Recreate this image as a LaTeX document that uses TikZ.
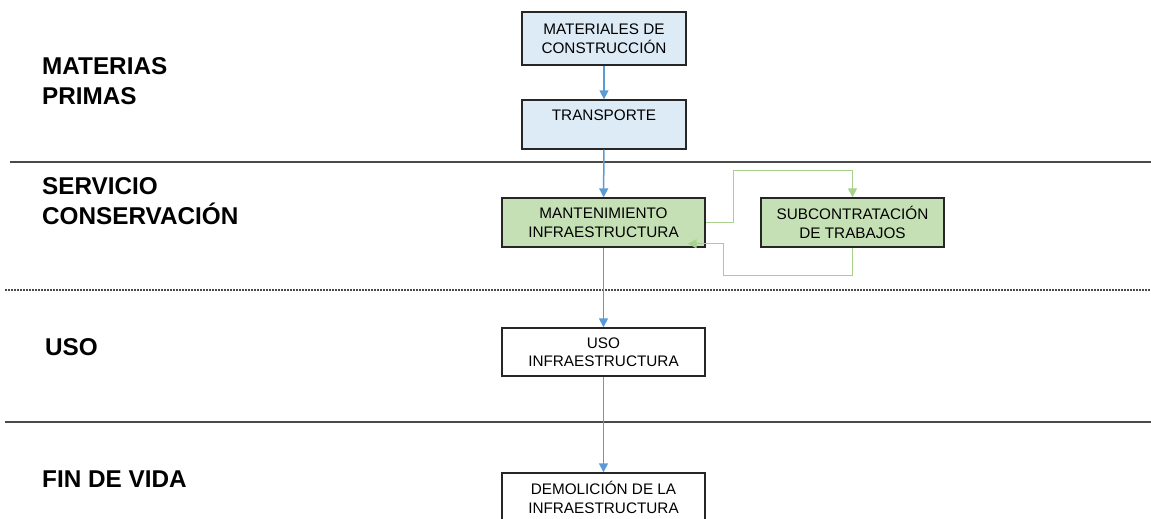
\documentclass[tikz,border=0pt]{standalone}
\usepackage{fontspec}
\setmainfont{Liberation Sans}
\usetikzlibrary{calc,positioning,arrows.meta}
\definecolor{boxblue}{HTML}{DDEBF7}
\definecolor{boxgreen}{HTML}{C5E0B4}
\definecolor{lineblue}{HTML}{5B9BD5}
\definecolor{linegreen}{HTML}{A9D18E}
\definecolor{sepgray}{HTML}{4A4A4A}

\begin{document}
\begin{tikzpicture}[x=1pt, y=-1pt,
  phase/.style={anchor=west, inner sep=0pt, align=left, font=\fontsize{24.3}{30}\selectfont\bfseries},
  sep/.style={draw=sepgray, line width=1.5pt}]
\tikzstyle{stage}=[draw=black!85, line width=1.4pt, inner sep=3pt, minimum width=164pt, minimum height=49pt, align=center, font=\fontsize{15.3}{18.5}\selectfont]
\tikzstyle{blue arrow}=[draw=lineblue, line width=1.5pt, -{Triangle[width=9pt,length=9pt]}]
\tikzstyle{green arrow}=[draw=linegreen, line width=1.5pt, -{Triangle[width=9pt,length=9pt]}]
\useasboundingbox (0,0) rectangle (1151,519);
% phase labels
\node[phase] (mp) at (42,81) {MATERIAS\\PRIMAS};
\node[phase] (sc) at (42,201) {SERVICIO\\CONSERVACIÓN};
\node[phase] (us) at (45,347) {USO};
\node[phase] (fv) at (42,479) {FIN DE VIDA};
% separators
\draw[sep] (10,162) -- (1151,162);
\draw[sep, line width=1.2pt, dash pattern=on 2pt off 1pt] (5,290) -- (1151,290);
\draw[sep] (5,422) -- (1151,422);
% stages
\node[stage, fill=boxblue, minimum height=53pt] (mat) at (604,38.5) {MATERIALES DE\\CONSTRUCCIÓN};
\node[stage, fill=boxblue, text height=17.5pt, text depth=25.5pt] (trans) at (604,124.5) {TRANSPORTE};
\node[stage, fill=boxgreen, minimum width=203pt] (mant) at (603.5,222.5) {MANTENIMIENTO\\INFRAESTRUCTURA};
\node[stage, fill=boxgreen, minimum width=183pt] (sub) at (852.5,222.5) {SUBCONTRATACIÓN\\DE TRABAJOS};
\node[stage, minimum width=203pt, minimum height=48pt] (uso) at (603.5,352) {USO\\INFRAESTRUCTURA};
\node[stage, minimum width=203pt] (dem) at (603.5,497.5) {DEMOLICIÓN DE LA\\INFRAESTRUCTURA};
% connectors
\foreach \i/\j in {mat/trans,trans/mant,mant/uso,uso/dem}{\draw[blue arrow] (\i) -- (\j);}
\draw[green arrow] (mant.east) -- ++(28,0) |- ($(sub.north)+(0,-27)$) -- (sub.north);
\draw[green arrow] (sub.south) -- ++(0,28) -| ([shift={(18,-4)}]mant.south east) -- ([shift={(-18,-4)}]mant.south east);
\end{tikzpicture}
\end{document}
